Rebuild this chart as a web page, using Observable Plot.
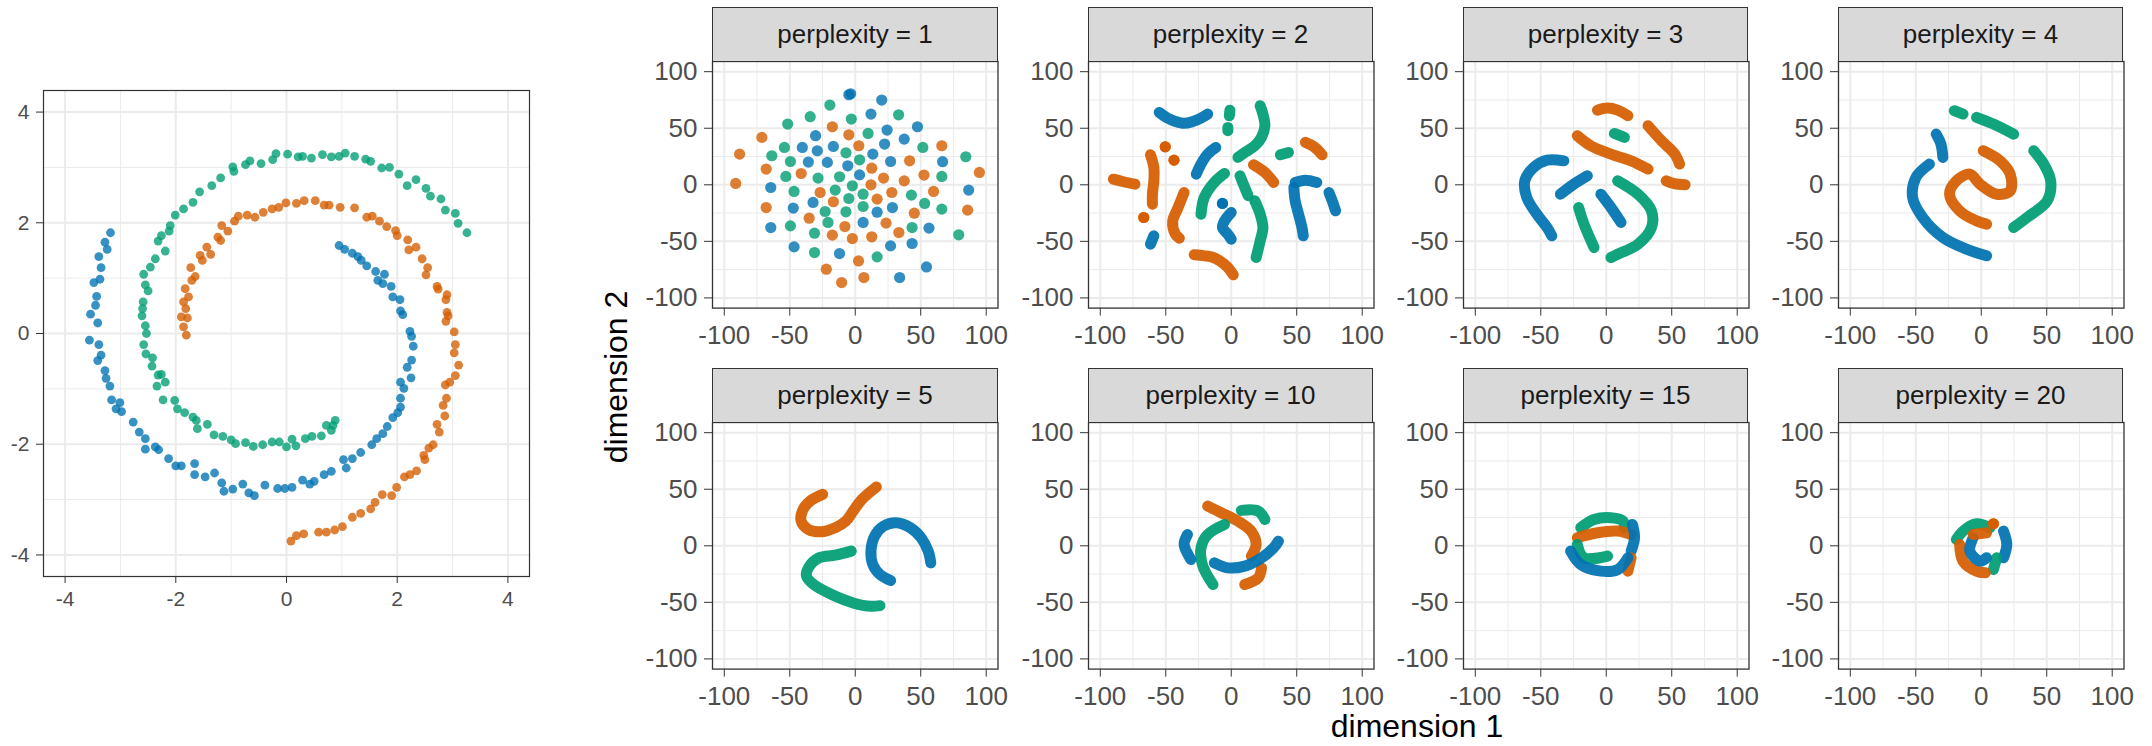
<!DOCTYPE html>
<html><head><meta charset="utf-8">
<script src="https://cdn.jsdelivr.net/npm/d3@7"></script>
<script src="https://cdn.jsdelivr.net/npm/@observablehq/plot@0.6"></script>
<style>
body{margin:0;background:#fff;}
#root{position:relative;width:2152px;height:746px;overflow:hidden;background:#fff;font-family:"Liberation Sans",Arial,Helvetica,sans-serif;}
.strip{position:absolute;box-sizing:border-box;background:#d9d9d9;border:1.4px solid #333;display:flex;align-items:center;justify-content:center;font-size:26px;color:#1a1a1a;}
svg{overflow:visible;}
</style></head><body><div id="root"></div><script>
// ---------- data ----------
const armColors = ["#0072B2", "#D55E00", "#009E73"]; // arm 0 (blue), arm 1 (orange), arm 2 (green)
const leftTicks = [-4, -2, 0, 2, 4];
const leftMinor = [-3, -1, 1, 3];
const facetTicks = [-100, -50, 0, 50, 100];
const facetMinor = [-75, -25, 25, 75];
const perplexities = [1, 2, 3, 4, 5, 10, 15, 20];

const spiralBlue = [[0.95,1.59],[1.05,1.52],[1.19,1.45],[1.29,1.39],[1.35,1.32],[1.45,1.22],[1.61,1.12],[1.77,1.07],[1.65,0.96],[1.74,0.9],[1.89,0.85],[1.92,0.66],[2.05,0.61],[2.06,0.41],[2.1,0.34],[2.23,0.04],[2.26,-0.05],[2.29,-0.23],[2.26,-0.48],[2.18,-0.61],[2.25,-0.8],[2.06,-0.88],[2.12,-0.99],[2.06,-1.17],[2.06,-1.33],[2.01,-1.43],[1.92,-1.52],[1.82,-1.68],[1.74,-1.81],[1.63,-1.9],[1.54,-2.01],[1.34,-2.15],[1.19,-2.26],[1.03,-2.28],[1.08,-2.43],[0.81,-2.49],[0.68,-2.55],[0.5,-2.67],[0.42,-2.72],[0.29,-2.65],[0.1,-2.78],[-0.03,-2.8],[-0.16,-2.8],[-0.39,-2.74],[-0.58,-2.93],[-0.68,-2.88],[-0.79,-2.72],[-0.97,-2.81],[-1.13,-2.85],[-1.17,-2.7],[-1.3,-2.52],[-1.47,-2.59],[-1.66,-2.55],[-1.66,-2.35],[-1.9,-2.39],[-2.0,-2.39],[-2.13,-2.26],[-2.31,-2.1],[-2.37,-2.05],[-2.55,-2.09],[-2.55,-1.9],[-2.66,-1.78],[-2.77,-1.6],[-2.98,-1.41],[-3.08,-1.36],[-3.01,-1.25],[-3.16,-1.2],[-3.19,-0.95],[-3.26,-0.81],[-3.28,-0.67],[-3.35,-0.39],[-3.41,-0.49],[-3.39,-0.2],[-3.56,-0.12],[-3.41,0.19],[-3.54,0.35],[-3.45,0.51],[-3.43,0.67],[-3.48,0.92],[-3.37,0.98],[-3.35,1.19],[-3.39,1.39],[-3.24,1.52],[-3.28,1.65],[-3.18,1.82]];
const spiralOrange = [[-1.81,-0.03],[-1.86,0.12],[-1.79,0.28],[-1.9,0.3],[-1.82,0.45],[-1.86,0.57],[-1.77,0.66],[-1.83,0.81],[-1.71,0.96],[-1.65,1.03],[-1.73,1.19],[-1.52,1.32],[-1.56,1.41],[-1.37,1.43],[-1.44,1.56],[-1.24,1.74],[-1.19,1.68],[-1.06,1.85],[-1.17,1.95],[-0.94,2.03],[-0.87,2.12],[-0.71,2.14],[-0.57,2.1],[-0.42,2.19],[-0.26,2.25],[-0.14,2.28],[-0.01,2.36],[0.18,2.35],[0.32,2.4],[0.52,2.4],[0.68,2.32],[0.77,2.32],[0.97,2.28],[1.23,2.27],[1.45,2.1],[1.55,2.12],[1.68,2.03],[1.81,1.93],[1.97,1.86],[2.0,1.77],[2.19,1.69],[2.34,1.56],[2.21,1.51],[2.45,1.35],[2.55,1.19],[2.52,1.06],[2.72,0.85],[2.74,0.8],[2.9,0.7],[2.88,0.61],[2.9,0.38],[2.92,0.32],[2.88,0.22],[3.03,0.03],[3.05,-0.2],[3.03,-0.35],[3.11,-0.57],[3.05,-0.76],[2.95,-0.88],[2.87,-0.93],[2.89,-1.17],[2.83,-1.3],[2.86,-1.49],[2.72,-1.64],[2.76,-1.78],[2.65,-2.01],[2.57,-2.07],[2.48,-2.2],[2.5,-2.28],[2.35,-2.48],[2.23,-2.55],[2.13,-2.59],[1.99,-2.78],[1.9,-2.93],[1.73,-2.91],[1.6,-3.05],[1.52,-3.17],[1.34,-3.25],[1.19,-3.32],[1.01,-3.49],[0.87,-3.55],[0.72,-3.59],[0.58,-3.59],[0.31,-3.62],[0.18,-3.65],[0.08,-3.75]];
const spiralGreen = [[0.88,-1.57],[0.84,-1.66],[0.72,-1.66],[0.81,-1.75],[0.63,-1.85],[0.46,-1.86],[0.34,-1.9],[0.17,-2.03],[0.1,-1.91],[0,-2.05],[-0.13,-1.96],[-0.26,-1.96],[-0.43,-2.01],[-0.6,-2.04],[-0.74,-1.97],[-0.92,-1.99],[-1.0,-1.92],[-1.15,-1.86],[-1.31,-1.83],[-1.43,-1.64],[-1.61,-1.72],[-1.63,-1.57],[-1.69,-1.51],[-1.84,-1.43],[-1.97,-1.36],[-2.02,-1.21],[-2.23,-1.2],[-2.19,-0.88],[-2.34,-0.95],[-2.26,-0.74],[-2.32,-0.75],[-2.43,-0.59],[-2.42,-0.44],[-2.54,-0.37],[-2.58,-0.2],[-2.53,0],[-2.55,0.14],[-2.61,0.32],[-2.6,0.45],[-2.59,0.57],[-2.5,0.77],[-2.55,0.88],[-2.58,1.07],[-2.46,1.2],[-2.37,1.35],[-2.32,1.67],[-2.26,1.77],[-2.19,1.49],[-2.12,1.85],[-2.1,1.95],[-2.01,2.14],[-1.86,2.25],[-1.69,2.37],[-1.57,2.56],[-1.35,2.67],[-1.19,2.81],[-0.97,3.01],[-0.95,2.93],[-0.74,3.05],[-0.66,3.12],[-0.46,3.07],[-0.25,3.14],[-0.19,3.25],[0.02,3.24],[0.21,3.19],[0.29,3.2],[0.45,3.17],[0.65,3.23],[0.81,3.19],[0.95,3.2],[1.06,3.26],[1.23,3.2],[1.43,3.15],[1.52,3.11],[1.72,2.99],[1.86,3.0],[2.03,2.88],[2.18,2.67],[2.34,2.78],[2.52,2.62],[2.6,2.48],[2.79,2.43],[2.87,2.23],[3.05,2.17],[3.1,1.99],[3.26,1.82]];

// perplexity = 1 : individual points [x, y, arm]
const p1Points = [[-4.9,79.6,0],[-3.5,80.5,0],[20.2,74.9,0],[-19.4,70.5,2],[-34.4,60.2,2],[-3.0,58.1,2],[12.0,62.5,0],[33.1,61.9,2],[-51.6,53.7,2],[-17.5,51.3,1],[24.3,48.4,0],[47.5,51.3,0],[9.8,45.4,2],[-71.3,41.9,1],[-30.3,43.4,0],[-4.9,44.2,1],[37.4,40.4,0],[2.7,34.5,1],[-54.1,33.0,2],[-40.4,33.0,0],[-29.0,30.1,0],[-16.7,33.9,0],[22.4,36.0,0],[51.6,33.0,2],[66.1,34.5,1],[-88.3,27.1,1],[-63.7,25.7,2],[-7.1,28.3,2],[13.4,27.1,0],[84.4,24.8,2],[-49.5,20.6,2],[-35.8,20.1,0],[-21.3,19.8,0],[3.3,22.1,2],[27.0,20.6,0],[41.5,21.2,1],[66.7,20.4,0],[-68.0,13.9,1],[-5.7,16.8,0],[12.6,14.7,1],[94.8,10.9,1],[-53.0,7.4,2],[-41.3,10.0,1],[-28.4,5.9,2],[-12.0,7.1,2],[3.3,8.8,0],[21.6,5.9,1],[52.5,8.6,1],[66.1,7.4,2],[-91.3,1.2,1],[-64.5,-2.4,0],[-2.2,-0.9,2],[12.0,0.0,1],[37.4,3.5,1],[-46.7,-5.9,2],[-26.8,-6.8,1],[-15.3,-4.7,2],[6.0,-8.3,2],[27.9,-6.8,1],[42.9,-9.1,2],[59.8,-5.9,1],[86.6,-4.7,0],[-32.2,-15.6,0],[-16.7,-15.0,1],[-4.9,-12.1,2],[16.7,-12.7,1],[53.0,-16.5,2],[-68.0,-20.1,1],[-47.3,-20.6,0],[-23.0,-23.6,2],[-7.1,-23.9,2],[6.0,-19.2,2],[16.7,-24.2,0],[28.4,-20.1,0],[45.1,-25.1,1],[66.1,-21.5,2],[85.8,-22.4,1],[-35.2,-29.5,1],[-20.8,-33.3,2],[6.0,-33.3,0],[23.5,-33.9,1],[-64.5,-37.8,0],[-49.5,-36.3,2],[-7.9,-36.9,1],[43.4,-37.8,2],[56.3,-38.3,0],[-31.1,-42.8,2],[-17.5,-44.5,1],[-2.2,-47.5,1],[12.6,-46.0,1],[33.3,-42.2,1],[79.0,-44.2,2],[-46.7,-54.9,0],[-31.1,-59.9,2],[-12.0,-60.8,0],[27.0,-54.0,0],[43.4,-51.9,0],[16.7,-63.7,2],[54.4,-72.6,0],[-22.1,-74.6,1],[2.5,-67.3,1],[33.9,-82.0,0],[-10.4,-86.4,1],[6.6,-82.0,1]];

// perplexity >= 2 : chains of overlapping points, [arm, [x1,y1, x2,y2, ...]]
const p2Chains = [[0,[-55,64,-48.8,59,-42.7,56,-36,54.3,-29.3,56,-23.1,59,-18,62.5]],[2,[-1,66,-1.5,61]],[2,[-2.6,50.7,-2.6,47.8]],[2,[22.1,69.9,24.2,62.5,25.7,52.2,23.1,41.9,18,34.5,10.3,28.6,5.1,24.2]],[2,[37.5,26.5,43.7,28.6]],[1,[56.6,37.5,63.2,33.6,69.4,26.5]],[1,[-50.4,33.6]],[1,[-43.7,21.8]],[0,[-11.8,33,-18,27.1,-23.1,18.3,-26.7,9.4]],[1,[-61.7,26.5,-59.1,15.3,-59.1,3.5,-60.2,-8.3,-60.2,-17.1]],[1,[-90,5,-82.3,2.7,-73.5,0.6]],[2,[-5.1,10,-12.9,2.1,-20.6,-11.2,-23.1,-26]],[2,[6.7,8,10.3,-2.4,12.9,-9.7]],[1,[17,17.7,25.7,10.9,32.4,2.1]],[0,[48.8,2.1,56.6,4.1,65.3,2.1]],[0,[74.6,-6.8,77.1,-14.2,79.7,-23]],[0,[47.8,-2.4,48.8,-14.2,51.4,-26,54,-37.8,55,-45.1]],[2,[18,-14.2,22.1,-26,24.2,-37.8,22.1,-49.6,19,-64.3]],[1,[-36,-6.8,-41.1,-21.5,-44.7,-31.9,-42.7,-43.7,-39.6,-47.2]],[1,[-66.8,-28.9]],[0,[-6.7,-16.5]],[0,[0,-24.5,-5.1,-31.9,-6.7,-37.8,-2.6,-43.7,0,-48.1]],[0,[-59.1,-45.1,-61.7,-52.5]],[1,[-28.3,-61.9,-20.6,-62.8,-15.4,-63.7,-8.7,-67.3,-2.6,-73.2,1.5,-79.6]]];
const p3Chains = [[1,[-6.7,66,1,67.8,8.7,66,16.5,61.1]],[2,[6.2,45.4,13.9,41.9]],[1,[-22.1,43.4,-11.8,34.5,3.6,27.1,19,21.2,31.9,13.9]],[1,[31.9,52.2,42.2,38.9,52.4,27.1,56,18.3]],[1,[45.8,3.5,52,1,60.2,0]],[0,[-32.4,21.2,-45.2,21.8,-55.5,15.3,-62.2,3.5,-60.7,-11.2,-53,-26,-45.2,-37.8,-41.6,-45.1]],[0,[-14.4,8,-24.7,0.6,-35,-8.3]],[2,[-21.1,-20.1,-17,-34.8,-9.3,-55.5]],[0,[-4.1,-8.3,3.6,-20.1,11.3,-33.3]],[2,[8.7,3.5,24.2,-8.3,34.5,-23,34.5,-37.8,24.2,-52.5,8.7,-61.4,3.6,-64.3]]];
const p4Chains = [[2,[-20.6,65.5,-13.9,62.5]],[2,[-3.6,59.6,9.3,53.7,24.7,44.8]],[0,[-34.4,44.8,-30.8,36,-29.3,24.2]],[2,[40.1,30.1,47.8,18.3,53,3.5,50.4,-14.2,35,-28.9,24.7,-37.8]],[1,[1.5,30.1,14.4,21.2,22.1,9.4,22.1,-5.3,11.8,-8.3,-1,0.6,-8.7,9.4,-19,3.5,-24.2,-8.3,-16.5,-23,-3.6,-31.9,4.1,-34.8]],[0,[-39.6,18.3,-49.9,6.5,-52.4,-11.2,-44.7,-28.9,-29.3,-46.6,-11.3,-56.9,4.1,-62.8]]];
const p5Chains = [[1,[-24.9,45.5,-34.4,39.6,-40.4,30.7,-41.3,21.9,-35.8,14.5,-26.2,12.4,-15.3,16,-7.1,21.9,-1.6,30.7,5.2,41.1,16.1,52]],[2,[-3,-4.7,-15.3,-8.3,-27.6,-10.6,-35.8,-19.5,-37.2,-26.9,-31.7,-34.3,-18,-43.1,-1.6,-50.5,12,-53.5,18.9,-52.9]],[0,[27,-30.7,18.9,-25.4,13.4,-16.5,12,-4.7,14.8,8.6,21.6,17.4,31.1,20.4,42.1,16,50.3,7.1,55.7,-4.7,57.7,-15.1]]];
const p10Chains = [[1,[-18,35.1,-7.7,29.2,5.1,21.8,15.4,12.7,19,1.2,15.4,-9.1]],[1,[23.1,-19.5,20.6,-28.4,10.3,-34.3]],[2,[7.7,31.3,20.6,30.7,25.7,23.3]],[2,[-5.1,18.9,-18,10,-23.1,-1.8,-22.1,-16.5,-18,-26.9,-13.9,-34.3]],[0,[-33.4,10,-36,1.2,-30.8,-12.1]],[0,[-12.9,-15.1,-2.6,-19.5,10.3,-18,23.1,-10.6,32.4,-1.8,36,4.1]]];
const p15Chains = [[2,[-19.5,16,-9.3,23.3,3.6,24.8,12.9,21.8,13.9,16]],[1,[-22.1,7.1,-6.7,11.5,8.7,13,19,10]],[0,[20,18.9,21.6,7.1,19,-4.7]],[1,[19,-10.6,16.5,-22.4]],[2,[-22.1,1.2,-17,-10.6,1,-9.1]],[0,[-27.2,-4.7,-19.5,-16.5,-4.1,-22.4,8.7,-21,16.5,-10.6]]];
const p20Chains = [[2,[-19,5.6,-13.9,13,-3.6,19.5,6.7,16]],[1,[9.3,19.5]],[0,[17,13,19.5,1.2,17,-10.6]],[2,[11.8,-10.6,9.3,-21]],[1,[-16.5,1.2,-13.9,-13.6,-3.6,-22.4,3.1,-23.9]],[0,[-6.2,7.1,-8.7,-4.7,-1,-13.6,4.1,-10.6]],[1,[-6.2,10,4.1,11.5]]];

// ---------- layout ----------
const FONT = '"Liberation Sans", Arial, Helvetica, sans-serif';
const root = document.getElementById("root");
const fmt = d => String(d);
const colLeft = [712.3, 1087.7, 1462.7, 1837.7];
const rowTop = [60.7, 421.7];
const PW = 285.5, PH = 246.6;

function place(el, left, top) {
  el.style.position = "absolute";
  el.style.left = left + "px";
  el.style.top = top + "px";
  root.appendChild(el);
}
function recolorAxes(svg) {
  d3.select(svg).selectAll('[aria-label$="tick label"] text, [aria-label$="tick label"]').attr("fill", "#4d4d4d");
}

// ---------- left spiral panel ----------
const spiralRows = [];
[spiralBlue, spiralOrange, spiralGreen].forEach((arr, g) => arr.forEach(([x, y]) => spiralRows.push({x, y, c: armColors[g]})));
const left = Plot.plot({
  width: 560, height: 560, marginLeft: 43, marginRight: 31, marginTop: 30, marginBottom: 44,
  style: {fontFamily: FONT, fontSize: "21px", color: "#333333", background: "transparent"},
  x: {domain: [-4.39, 4.39], ticks: leftTicks, tickFormat: fmt, tickSize: 7, tickPadding: 8, label: null},
  y: {domain: [-4.39, 4.39], ticks: leftTicks, tickFormat: fmt, tickSize: 7, tickPadding: 7, label: null},
  color: {type: "identity"},
  marks: [
    Plot.ruleX(leftMinor, {stroke: "#ebebeb", strokeWidth: 1}),
    Plot.ruleY(leftMinor, {stroke: "#ebebeb", strokeWidth: 1}),
    Plot.ruleX(leftTicks, {stroke: "#ebebeb", strokeWidth: 2}),
    Plot.ruleY(leftTicks, {stroke: "#ebebeb", strokeWidth: 2}),
    Plot.dot(spiralRows, {x: "x", y: "y", r: 4.4, fill: "c", fillOpacity: 0.78, stroke: "none"}),
    Plot.frame({stroke: "#333333", strokeWidth: 1.2})
  ]
});
recolorAxes(left);
place(left, 0, 60);

// ---------- facets ----------
function chainRows(chains) {
  const rows = [];
  chains.forEach(([g, flat], s) => {
    for (let i = 0; i < flat.length; i += 2) rows.push({x: flat[i], y: flat[i + 1], c: armColors[g], seg: s, n: flat.length / 2});
  });
  return rows;
}
const panelData = [null, p2Chains, p3Chains, p4Chains, p5Chains, p10Chains, p15Chains, p20Chains];

perplexities.forEach((p, k) => {
  const col = k % 4, row = Math.floor(k / 4);
  const L = colLeft[col], T = rowTop[row];
  let content;
  if (k === 0) {
    const rows = p1Points.map(([x, y, g]) => ({x, y, c: armColors[g]}));
    content = [Plot.dot(rows, {x: "x", y: "y", r: 5.6, fill: "c", fillOpacity: 0.8, stroke: "none"})];
  } else {
    const rows = chainRows(panelData[k]);
    content = [
      Plot.line(rows, {x: "x", y: "y", z: "seg", stroke: "c", strokeWidth: 11, strokeLinecap: "round", strokeLinejoin: "round", curve: "catmull-rom", strokeOpacity: 0.93}),
      Plot.dot(rows.filter(d => d.n === 1), {x: "x", y: "y", r: 5.6, fill: "c", fillOpacity: 0.93, stroke: "none"})
    ];
  }
  const svg = Plot.plot({
    width: 95 + PW + 12, height: 10 + PH + 52,
    marginLeft: 95, marginRight: 12, marginTop: 10, marginBottom: 52,
    style: {fontFamily: FONT, fontSize: "26px", color: "#333333", background: "transparent"},
    x: {domain: [-109, 109], ticks: facetTicks, tickFormat: fmt, tickSize: 8, tickPadding: 9, label: null},
    y: {domain: [-109, 109], ticks: facetTicks, tickFormat: fmt, tickSize: 8, tickPadding: 7, label: null},
    color: {type: "identity"},
    marks: [
      Plot.ruleX(facetMinor, {stroke: "#ebebeb", strokeWidth: 1}),
      Plot.ruleY(facetMinor, {stroke: "#ebebeb", strokeWidth: 1}),
      Plot.ruleX(facetTicks, {stroke: "#ebebeb", strokeWidth: 2}),
      Plot.ruleY(facetTicks, {stroke: "#ebebeb", strokeWidth: 2}),
      ...content,
      Plot.frame({stroke: "#333333", strokeWidth: 1.3})
    ]
  });
  recolorAxes(svg);
  place(svg, L - 95, T - 10);
  const strip = document.createElement("div");
  strip.className = "strip";
  strip.style.left = L + "px";
  strip.style.top = (T - 53.4) + "px";
  strip.style.width = PW + "px";
  strip.style.height = 54.4 + "px";
  strip.textContent = "perplexity = " + p;
  root.appendChild(strip);
});

// ---------- axis titles ----------
const ns = "http://www.w3.org/2000/svg";
const titles = document.createElementNS(ns, "svg");
titles.setAttribute("width", 2152); titles.setAttribute("height", 746);
titles.style.position = "absolute"; titles.style.left = "0px"; titles.style.top = "0px"; titles.style.pointerEvents = "none";
titles.innerHTML = `<text x="1417" y="737" text-anchor="middle" font-family='${FONT}' font-size="32" fill="#000">dimension 1</text>
<text transform="translate(627,377) rotate(-90)" text-anchor="middle" font-family='${FONT}' font-size="32" fill="#000">dimension 2</text>`;
root.appendChild(titles);
</script></body></html>
